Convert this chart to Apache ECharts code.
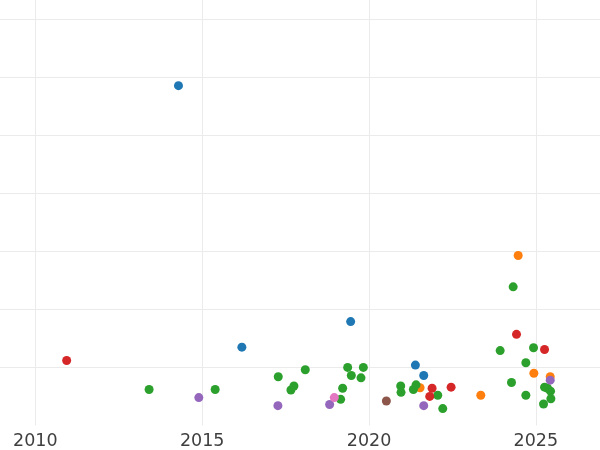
<!DOCTYPE html>
<html>
<head>
<meta charset="utf-8">
<script src="https://cdn.jsdelivr.net/npm/echarts@6/dist/echarts.min.js"></script>
<style>
html,body{margin:0;padding:0;background:#fff;}
#chart{width:600px;height:450px;}
</style>
</head>
<body>
<div id="chart"></div>
<script>
// Tick labels shown on the x axis
const xTickLabels = ['2010', '2015', '2020', '2025'];

// Series (one per colour group): x = year, y = value
const blueX   = [2014.29, 2016.19, 2019.45, 2021.39, 2021.64];
const blueY   = [5.86, 1.35, 1.79, 1.04, 0.86];

const orangeX = [2021.53, 2023.35, 2024.47, 2024.94, 2025.43];
const orangeY = [0.65, 0.52, 2.93, 0.90, 0.84];

const greenX  = [2013.41, 2015.39, 2017.28, 2017.66, 2017.75, 2018.09, 2019.36, 2019.47, 2019.83, 2019.76,
                 2019.21, 2019.15, 2020.95, 2020.96, 2021.33, 2021.41, 2022.06, 2022.21, 2023.93, 2024.32,
                 2024.93, 2024.70, 2024.27, 2024.70, 2025.26, 2025.35, 2025.44, 2025.45, 2025.23];
const greenY  = [0.62, 0.62, 0.84, 0.61, 0.68, 0.96, 1.00, 0.86, 1.00, 0.82,
                 0.64, 0.45, 0.68, 0.57, 0.62, 0.70, 0.52, 0.29, 1.29, 2.39,
                 1.34, 1.08, 0.74, 0.52, 0.66, 0.64, 0.59, 0.46, 0.37];

const redX    = [2010.94, 2021.89, 2021.82, 2022.46, 2024.42, 2025.26];
const redY    = [1.12, 0.64, 0.50, 0.66, 1.57, 1.31];

const purpleX = [2014.90, 2017.27, 2018.82, 2021.64, 2025.43];
const purpleY = [0.48, 0.34, 0.36, 0.34, 0.78];

const brownX  = [2020.52];
const brownY  = [0.42];

const pinkX   = [2018.96];
const pinkY   = [0.48];

// Visible axis extents
const xRange = [2008.942, 2026.922];
const yRange = [0, 7.337];

const groups = [
  {name: 'blue',   x: blueX,   y: blueY,   color: '#1f77b4'},
  {name: 'orange', x: orangeX, y: orangeY, color: '#ff7f0e'},
  {name: 'green',  x: greenX,  y: greenY,  color: '#2ca02c'},
  {name: 'red',    x: redX,    y: redY,    color: '#d62728'},
  {name: 'purple', x: purpleX, y: purpleY, color: '#9467bd'},
  {name: 'brown',  x: brownX,  y: brownY,  color: '#8c564b'},
  {name: 'pink',   x: pinkX,   y: pinkY,   color: '#e377c2'}
];

const chart = echarts.init(document.getElementById('chart'), null, {renderer: 'canvas'});

const series = groups.map(g => ({
  name: g.name,
  type: 'scatter',
  symbol: 'circle',
  symbolSize: 9,
  itemStyle: {color: g.color, opacity: 1},
  emphasis: {disabled: true},
  data: g.x.map((v, i) => [v, g.y[i]])
}));

chart.setOption({
  animation: false,
  backgroundColor: '#ffffff',
  grid: {left: 0, right: 0, top: 0, bottom: 22.4, containLabel: false},
  xAxis: {
    type: 'value',
    min: xRange[0],
    max: xRange[1],
    splitNumber: 4,
    minInterval: 5,
    maxInterval: 5,
    axisLine: {show: false},
    axisTick: {show: false},
    splitLine: {show: true, showMinLine: false, showMaxLine: false, lineStyle: {color: '#ebebeb', width: 1}},
    axisLabel: {
      show: true,
      margin: 6.6,
      color: '#3f3f3f',
      fontFamily: 'DejaVu Sans',
      fontSize: 17.5,
      showMinLabel: false,
      showMaxLabel: false,
      formatter: function (v) {
        const s = String(Math.round(v));
        return xTickLabels.indexOf(s) >= 0 ? s : '';
      }
    }
  },
  yAxis: {
    type: 'value',
    min: yRange[0],
    max: yRange[1],
    splitNumber: 7,
    minInterval: 1,
    maxInterval: 1,
    axisLine: {show: false},
    axisTick: {show: false},
    axisLabel: {show: false},
    splitLine: {show: true, showMinLine: false, showMaxLine: false, lineStyle: {color: '#ebebeb', width: 1}}
  },
  series: series
});
</script>
</body>
</html>
